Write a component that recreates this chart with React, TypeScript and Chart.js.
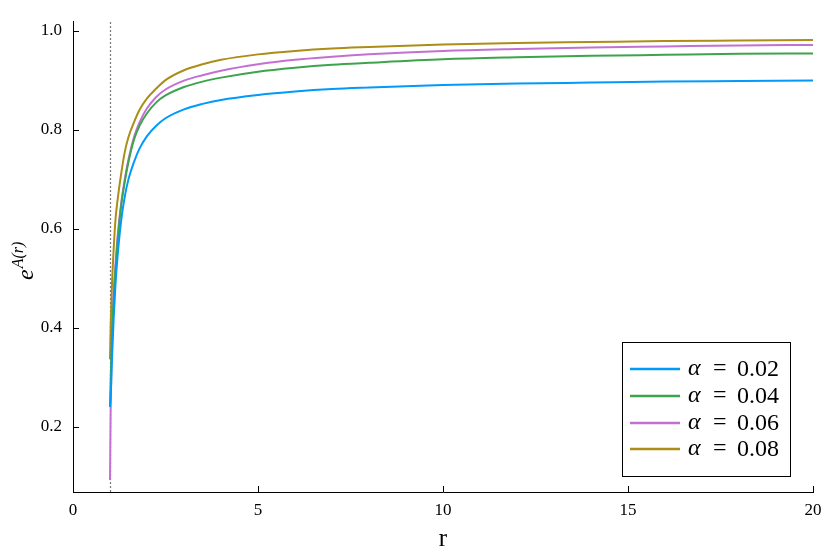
import React, { useEffect, useRef } from "react";
import { Chart, registerables } from "chart.js";

Chart.register(...registerables);

const R = [1.0, 1.02, 1.05, 1.1, 1.15, 1.2, 1.3, 1.4, 1.5, 1.65, 1.8, 2.0, 2.25, 2.5, 3.0, 3.5, 4.0, 5.0, 6.0, 7.0, 8.0, 10.0, 12.0, 14.0, 16.0, 18.0, 20.0];

const alpha002 = [0.24, 0.26, 0.33, 0.42, 0.49, 0.54, 0.615, 0.665, 0.7, 0.735, 0.762, 0.787, 0.808, 0.823, 0.841, 0.852, 0.86, 0.87, 0.877, 0.882, 0.885, 0.89, 0.893, 0.895, 0.897, 0.898, 0.899];
const alpha004 = [0.24, 0.3, 0.38, 0.46, 0.52, 0.57, 0.645, 0.695, 0.735, 0.78, 0.808, 0.833, 0.855, 0.869, 0.886, 0.897, 0.905, 0.917, 0.925, 0.931, 0.935, 0.942, 0.946, 0.949, 0.951, 0.953, 0.954];
const alpha006 = [0.092, 0.25, 0.37, 0.47, 0.53, 0.58, 0.65, 0.7, 0.74, 0.785, 0.815, 0.843, 0.866, 0.881, 0.899, 0.91, 0.919, 0.932, 0.941, 0.947, 0.952, 0.959, 0.963, 0.966, 0.968, 0.97, 0.971];
const alpha008 = [0.336, 0.41, 0.48, 0.56, 0.62, 0.655, 0.71, 0.755, 0.785, 0.815, 0.84, 0.863, 0.883, 0.9, 0.92, 0.932, 0.941, 0.952, 0.959, 0.964, 0.967, 0.972, 0.975, 0.977, 0.979, 0.98, 0.981];

const seriesLabels = ["0.02", "0.04", "0.06", "0.08"];
const seriesColors = ["#009AFA", "#3DA44D", "#C271D2", "#AC8D18"];
const seriesValues = [alpha002, alpha004, alpha006, alpha008];

const xTicks = [0, 5, 10, 15, 20];
const yTicks = [0.2, 0.4, 0.6, 0.8, 1.0];
const verticalLineR = 1;

const SERIF = "'Liberation Serif', 'DejaVu Serif', serif";

const customPlugin = {
  id: "custom",
  beforeDatasetsDraw(chart: any) {
    const { ctx, chartArea, scales } = chart;
    const x = scales.x.getPixelForValue(verticalLineR);
    ctx.save();
    ctx.strokeStyle = "#777";
    ctx.lineWidth = 1.2;
    ctx.setLineDash([2, 2]);
    ctx.beginPath();
    ctx.moveTo(Math.round(x) + 0.5, chartArea.bottom);
    ctx.lineTo(Math.round(x) + 0.5, chartArea.top);
    ctx.stroke();
    ctx.restore();
  },
  afterDraw(chart: any) {
    const { ctx, chartArea, scales } = chart;
    ctx.save();
    ctx.strokeStyle = "#000";
    ctx.lineWidth = 1;
    ctx.beginPath();
    for (const t of xTicks) {
      const px = Math.round(scales.x.getPixelForValue(t)) + 0.5;
      ctx.moveTo(px, chartArea.bottom);
      ctx.lineTo(px, chartArea.bottom - 6);
    }
    for (const t of yTicks) {
      const py = Math.round(scales.y.getPixelForValue(t)) + 0.5;
      ctx.moveTo(chartArea.left, py);
      ctx.lineTo(chartArea.left + 6, py);
    }
    ctx.stroke();

    // y axis title e^{A(r)}
    ctx.save();
    ctx.translate(33, 280);
    ctx.rotate(-Math.PI / 2);
    ctx.fillStyle = "#000";
    ctx.textBaseline = "alphabetic";
    ctx.textAlign = "left";
    ctx.font = "italic 24px " + SERIF;
    ctx.fillText("e", 0, 0);
    const ew = ctx.measureText("e").width;
    ctx.font = "italic 16px " + SERIF;
    ctx.fillText("A(r)", ew + 1, -10);
    ctx.restore();

    // legend
    const bx = 622, by = 342, bw = 168, bh = 134;
    ctx.fillStyle = "#fff";
    ctx.fillRect(bx, by, bw, bh);
    ctx.strokeStyle = "#000";
    ctx.lineWidth = 1;
    ctx.setLineDash([]);
    ctx.strokeRect(bx + 0.5, by + 0.5, bw, bh);
    const rowsY = [369, 396, 423, 449];
    chart.data.datasets.forEach((ds: any, i: number) => {
      const y = rowsY[i];
      ctx.strokeStyle = ds.borderColor;
      ctx.lineWidth = 2.5;
      ctx.beginPath();
      ctx.moveTo(630, y);
      ctx.lineTo(680, y);
      ctx.stroke();
      ctx.fillStyle = "#000";
      ctx.textBaseline = "middle";
      ctx.textAlign = "left";
      ctx.font = "italic 24px " + SERIF;
      ctx.fillText("α", 688, y);
      ctx.font = "24px " + SERIF;
      ctx.fillText("=", 713, y);
      ctx.fillText(seriesLabels[i], 737, y + 1);
    });
    ctx.restore();
  },
};

export default function App() {
  const ref = useRef<HTMLCanvasElement>(null);
  useEffect(() => {
    if (!ref.current) return;
    const chart = new Chart(ref.current, {
      type: "line",
      data: {
        datasets: seriesValues.map((vals, i) => ({
          label: "α = " + seriesLabels[i],
          data: R.map((r, j) => ({ x: r, y: vals[j] })),
          borderColor: seriesColors[i],
          backgroundColor: seriesColors[i],
          borderWidth: 2,
          pointRadius: 0,
          cubicInterpolationMode: "monotone" as const,
          fill: false,
        })),
      },
      options: {
        responsive: false,
        animation: false,
        layout: { padding: { top: 16, right: 17, left: 0, bottom: 0 } },
        plugins: { legend: { display: false }, tooltip: { enabled: false } },
        scales: {
          x: {
            type: "linear",
            min: 0,
            max: 20,
            afterBuildTicks: (s: any) => {
              s.ticks = xTicks.map((v) => ({ value: v }));
            },
            afterFit: (s: any) => {
              s.height = 62;
            },
            grid: { display: false, drawTicks: false },
            border: { display: true, color: "#000", width: 1 },
            ticks: {
              color: "#000",
              padding: 8,
              maxRotation: 0,
              font: { family: SERIF, size: 17 },
              callback: (v: any) => String(v),
            },
            title: {
              display: true,
              text: "r",
              color: "#000",
              font: { family: SERIF, size: 25 },
              padding: { top: 6, bottom: 0 },
            },
          },
          y: {
            type: "linear",
            min: 0.068,
            max: 1.019,
            afterBuildTicks: (s: any) => {
              s.ticks = yTicks.map((v) => ({ value: v }));
            },
            afterFit: (s: any) => {
              s.width = 73;
            },
            grid: { display: false, drawTicks: false },
            border: { display: true, color: "#000", width: 1 },
            ticks: {
              color: "#000",
              padding: 11,
              font: { family: SERIF, size: 17 },
              callback: (v: any) => Number(v).toFixed(1),
            },
          },
        },
      },
      plugins: [customPlugin],
    });
    return () => chart.destroy();
  }, []);
  return (
    <div style={{ position: "absolute", left: 0, top: 0, width: 830, height: 554, background: "#fff" }}>
      <canvas ref={ref} width={830} height={554} />
    </div>
  );
}
